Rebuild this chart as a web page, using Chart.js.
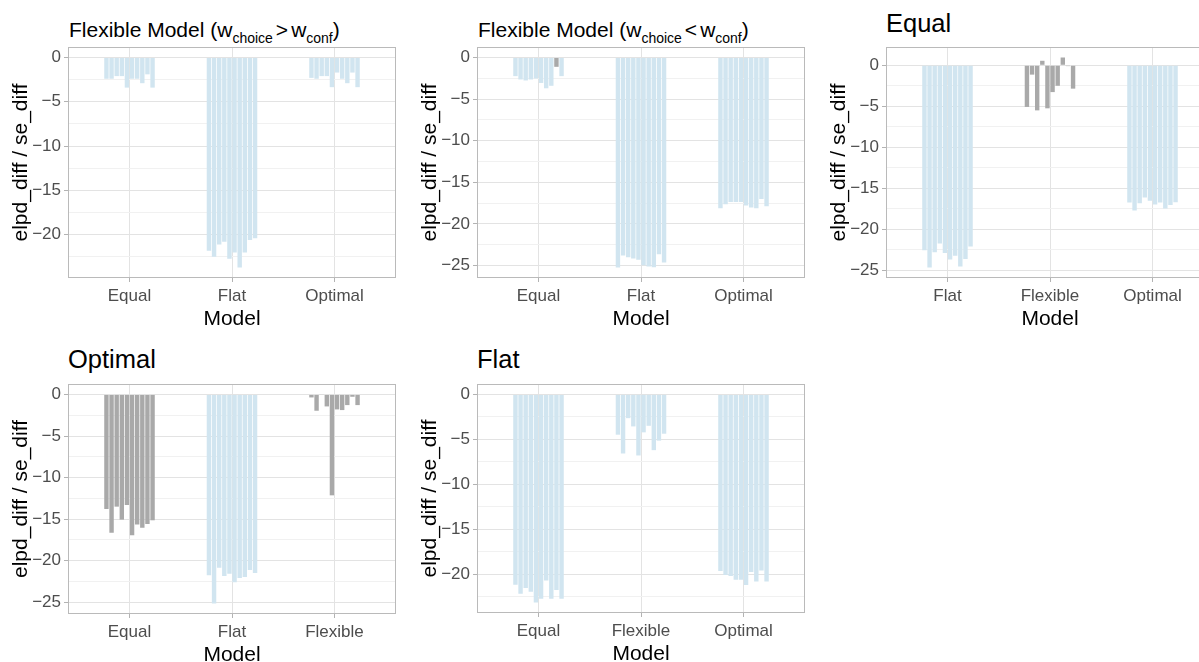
<!DOCTYPE html>
<html><head><meta charset="utf-8">
<script src="https://cdn.jsdelivr.net/npm/chart.js@4.4.1/dist/chart.umd.min.js"></script>
<style>
html,body{margin:0;padding:0;background:#fff;width:1199px;height:662px;overflow:hidden;position:relative;font-family:"Liberation Sans",Arial,sans-serif;}
canvas{position:absolute;}
.title{position:absolute;color:#000;white-space:nowrap;line-height:1;}
.sub{font-size:14px;position:relative;top:6px;}
.rel{margin:0 3px;}
</style></head><body>
<div class="title" style="left:69px;top:19px;font-size:21px">Flexible Model (w<span class="sub">choice</span><span class="rel">&gt;</span>w<span class="sub">conf</span>)</div>
<div class="title" style="left:478px;top:19px;font-size:21px">Flexible Model (w<span class="sub">choice</span><span class="rel">&lt;</span>w<span class="sub">conf</span>)</div>
<div class="title" style="left:886px;top:11px;font-size:25.5px">Equal</div>
<div class="title" style="left:68px;top:347px;font-size:25.5px">Optimal</div>
<div class="title" style="left:477px;top:347px;font-size:25.5px">Flat</div>
<script>
// ---------- data ----------
// Panel 1: Flexible Model (w_choice > w_conf)
const p1Categories = ['Equal', 'Flat', 'Optimal'];
const p1Equal   = [-2.4, -2.4, -2.1, -2.1, -3.4, -2.4, -2.4, -2.9, -1.9, -3.4];
const p1Flat    = [-21.8, -22.5, -21.1, -20.8, -22.7, -22.0, -23.7, -22.0, -20.6, -20.4];
const p1Optimal = [-2.3, -2.4, -2.1, -2.1, -3.35, -1.7, -2.4, -2.9, -1.7, -3.35];
const p1GrayCategories = [];
const p1GrayBars = [];

// Panel 2: Flexible Model (w_choice < w_conf)
const p2Categories = ['Equal', 'Flat', 'Optimal'];
const p2Equal   = [-2.24, -2.64, -2.76, -2.64, -2.52, -3.06, -3.7, -3.4, -1.12, -2.24];
const p2Flat    = [-25.24, -23.8, -24.0, -24.16, -24.32, -24.96, -25.12, -25.2, -23.64, -24.64];
const p2Optimal = [-18.12, -17.64, -17.36, -17.36, -17.36, -17.8, -18.04, -18.12, -17.0, -17.88];
const p2GrayCategories = [];
const p2GrayBars = [['Equal', 8]];

// Panel 3: Equal
const p3Categories = ['Flat', 'Flexible', 'Optimal'];
const p3Flat     = [-22.56, -24.67, -22.8, -21.75, -22.89, -23.7, -23.25, -24.55, -23.62, -22.1];
const p3Flexible = [-5.08, -1.14, -5.5, 0.55, -5.25, -3.27, -2.5, 0.95, -0.1, -2.85];
const p3Optimal  = [-16.75, -17.72, -16.83, -16.14, -16.54, -16.99, -16.75, -17.48, -17.03, -16.71];
const p3GrayCategories = ['Flexible'];
const p3GrayBars = [];

// Panel 4: Optimal
const p4Categories = ['Equal', 'Flat', 'Flexible'];
const p4Equal    = [-13.78, -16.65, -13.5, -15.06, -13.3, -16.93, -15.65, -16.05, -15.58, -15.14];
const p4Flat     = [-21.77, -25.16, -20.85, -21.85, -21.57, -22.6, -22.08, -21.97, -21.13, -21.49];
const p4Flexible = [-0.36, -1.96, -0.05, -1.44, -12.14, -1.8, -1.88, -1.28, -0.28, -1.28];
const p4GrayCategories = ['Equal', 'Flexible'];
const p4GrayBars = [];

// Panel 5: Flat
const p5Categories = ['Equal', 'Flexible', 'Optimal'];
const p5Equal    = [-21.17, -22.16, -21.53, -21.94, -23.15, -22.71, -20.69, -22.71, -21.75, -22.71];
const p5Flexible = [-4.48, -6.57, -2.64, -3.56, -6.79, -4.22, -3.49, -6.2, -5.14, -4.37];
const p5Optimal  = [-19.63, -20.07, -20.18, -20.62, -20.62, -21.2, -19.74, -20.8, -19.59, -20.8];
const p5GrayCategories = [];
const p5GrayBars = [];

const yAxisTitle = 'elpd_diff / se_diff';
const xAxisTitle = 'Model';

// ---------- styles ----------
const BLUE = '#d1e5f0';
const GRAY = '#a9a9a9';
const FONT = '"Liberation Sans", Arial, sans-serif';
Chart.defaults.font.family = FONT;

const borderPlugin = {
  id: 'panelBorder',
  afterDraw(chart) {
    const {ctx, chartArea: a} = chart;
    ctx.save();
    ctx.strokeStyle = '#bababa';
    ctx.lineWidth = 1;
    ctx.strokeRect(Math.round(a.left) + 0.5, Math.round(a.top) + 0.5,
                   Math.round(a.right - a.left) - 1, Math.round(a.bottom - a.top) - 1);
    ctx.restore();
  }
};

function isMajor(v) { return Math.abs(v % 5) < 1e-6; }

function makePanel(geom, cats, series, grayCats, grayBars) {
  const c = document.createElement('canvas');
  const cl = geom.L - 68, ct = geom.T - 20;
  const w = geom.R - cl + 2, h = 20 + (geom.B - geom.T) + 57;
  c.width = w; c.height = h;
  c.style.left = cl + 'px'; c.style.top = ct + 'px';
  c.style.width = w + 'px'; c.style.height = h + 'px';
  document.body.appendChild(c);

  const all = series.flat();
  const dmin = Math.min(0, ...all), dmax = Math.max(0, ...all);
  const ext = (dmax - dmin) * 0.05;

  const nBars = series[0].length;
  const datasets = [];
  for (let s = 0; s < nBars; s++) {
    datasets.push({
      data: cats.map((cat, ci) => ({x: ci + 1, y: series[ci][s]})),
      backgroundColor: cats.map((cat, ci) =>
        (grayCats.includes(cat) || grayBars.some(g => g[0] === cat && g[1] === s)) ? GRAY : BLUE),
      borderWidth: 0,
      categoryPercentage: 0.5,
      barPercentage: 0.86
    });
  }

  new Chart(c, {
    type: 'bar',
    data: {datasets},
    options: {
      responsive: false,
      animation: false,
      devicePixelRatio: 1,
      layout: {padding: {top: 20, right: 2, left: 0, bottom: 0}},
      plugins: {legend: {display: false}, tooltip: {enabled: false}, title: {display: false}},
      scales: {
        x: {
          type: 'linear',
          offset: false,
          min: 0.4, max: 3.6,
          afterBuildTicks: s => { s.ticks = cats.map((cat, i) => ({value: i + 1})); },
          afterFit: s => { s.height = 57; },
          ticks: {
            autoSkip: false, maxRotation: 0, padding: 4,
            color: '#4d4d4d', font: {size: 17},
            callback: v => cats[Math.round(v) - 1] || ''
          },
          grid: {
            offset: false, color: '#e3e3e3', lineWidth: 1,
            tickLength: 4, tickColor: '#b3b3b3', drawTicks: true
          },
          border: {display: false},
          title: {display: true, text: xAxisTitle, color: '#000', font: {size: 21},
                  padding: {top: 0, bottom: 3.5}}
        },
        y: {
          type: 'linear',
          min: dmin - ext, max: dmax + ext,
          afterBuildTicks: s => {
            const t = [];
            for (let v = Math.ceil(s.min / 2.5) * 2.5; v <= s.max + 1e-9; v += 2.5) {
              t.push({value: Math.round(v * 10) / 10});
            }
            s.ticks = t;
          },
          afterFit: s => { s.width = 68; },
          ticks: {
            autoSkip: false, padding: 3,
            color: '#4d4d4d', font: {size: 17},
            callback: v => isMajor(v) ? (v === 0 ? '0' : (v < 0 ? '\u2212' : '') + Math.abs(v)) : ''
          },
          grid: {
            color: ctx => (ctx.tick && isMajor(ctx.tick.value)) ? '#e3e3e3' : '#f1f1f1',
            tickColor: ctx => (ctx.tick && isMajor(ctx.tick.value)) ? '#b3b3b3' : 'rgba(0,0,0,0)',
            lineWidth: 1, tickLength: 4, drawTicks: true
          },
          border: {display: false},
          title: {display: true, text: yAxisTitle, color: '#000', font: {size: 21},
                  padding: {top: 9, bottom: 0}}
        }
      }
    },
    plugins: [borderPlugin]
  });
}

makePanel({L: 68, T: 47, R: 396, B: 278}, p1Categories, [p1Equal, p1Flat, p1Optimal], p1GrayCategories, p1GrayBars);
makePanel({L: 477, T: 47, R: 805, B: 278}, p2Categories, [p2Equal, p2Flat, p2Optimal], p2GrayCategories, p2GrayBars);
makePanel({L: 886, T: 47, R: 1214, B: 278}, p3Categories, [p3Flat, p3Flexible, p3Optimal], p3GrayCategories, p3GrayBars);
makePanel({L: 68, T: 384, R: 396, B: 614}, p4Categories, [p4Equal, p4Flat, p4Flexible], p4GrayCategories, p4GrayBars);
makePanel({L: 477, T: 384, R: 805, B: 613}, p5Categories, [p5Equal, p5Flexible, p5Optimal], p5GrayCategories, p5GrayBars);
</script>
</body></html>
